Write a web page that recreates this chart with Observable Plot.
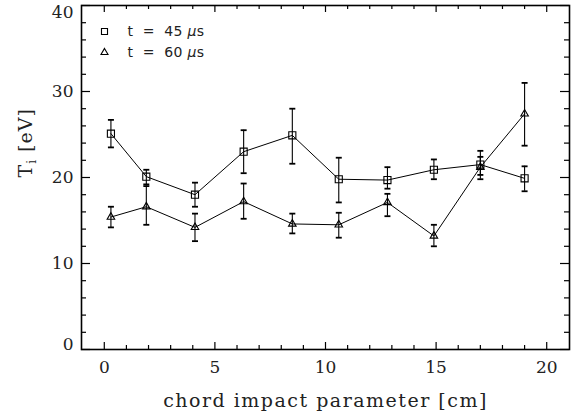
<!DOCTYPE html>
<html><head><meta charset="utf-8">
<script src="https://cdn.jsdelivr.net/npm/d3@7"></script>
<script src="https://cdn.jsdelivr.net/npm/@observablehq/plot@0.6"></script>
<style>body{margin:0;background:#fff} #chart svg{display:block}</style>
</head><body><div id="chart"></div>
<script>
// ---- data ----
const impact = [0.3, 1.9, 4.1, 6.3, 8.5, 10.6, 12.8, 14.9, 17.0, 19.0];
const ti45   = [25.1, 20.1, 18.0, 23.0, 24.9, 19.8, 19.7, 20.9, 21.5, 19.9];
const ti45Lo = [23.5, 19.2, 16.6, 20.5, 21.6, 17.1, 18.7, 19.8, 20.3, 18.4];
const ti45Hi = [26.7, 20.9, 19.4, 25.5, 28.0, 22.3, 21.2, 22.1, 23.1, 21.3];
const ti60   = [15.4, 16.6, 14.2, 17.2, 14.6, 14.5, 17.1, 13.2, 21.2, 27.4];
const ti60Lo = [14.2, 14.5, 12.6, 15.2, 13.5, 13.0, 15.5, 12.0, 19.8, 23.7];
const ti60Hi = [16.6, 19.0, 15.8, 19.3, 15.8, 15.9, 18.1, 14.5, 22.4, 31.0];
const seriesLabels = ["t = 45 μs", "t = 60 μs"];
const xLabel = "chord impact parameter [cm]";
const yLabel = "Ti [eV]";
const xMajor = [0, 5, 10, 15, 20];
const xMinor = [1, 2, 3, 4, 6, 7, 8, 9, 11, 12, 13, 14, 16, 17, 18, 19];
const yMajor = [0, 10, 20, 30, 40];
const yMinor = [2, 4, 6, 8, 12, 14, 16, 18, 22, 24, 26, 28, 32, 34, 36, 38];

const rows45 = impact.map((x, i) => ({x, y: ti45[i], lo: ti45Lo[i], hi: ti45Hi[i]}));
const rows60 = impact.map((x, i) => ({x, y: ti60[i], lo: ti60Lo[i], hi: ti60Hi[i]}));

const W = 578, H = 415, mL = 81, mR = 9, mT = 5, mB = 66;
const innerW = W - mL - mR, innerH = H - mT - mB;
const cap = {draw(ctx) { ctx.moveTo(-3, 0); ctx.lineTo(3, 0); }};
const serif = "DejaVu Serif";

function series(rows, symbol, r) {
  return [
    Plot.ruleX(rows, {x: "x", y1: "lo", y2: "hi", stroke: "black", strokeWidth: 1.1}),
    Plot.dot(rows, {x: "x", y: "lo", symbol: cap, stroke: "black", strokeWidth: 1.8}),
    Plot.dot(rows, {x: "x", y: "hi", symbol: cap, stroke: "black", strokeWidth: 1.8}),
    Plot.line(rows, {x: "x", y: "y", stroke: "black", strokeWidth: 1}),
    Plot.dot(rows, {x: "x", y: "y", symbol, r, stroke: "black", strokeWidth: 1.1, fill: "none"})
  ];
}

const chart = Plot.plot({
  width: W, height: H,
  marginLeft: mL, marginRight: mR, marginTop: mT, marginBottom: mB,
  style: {fontFamily: serif, background: "#fff", color: "#222"},
  x: {domain: [-1.03, 21.03]},
  y: {domain: [0, 40]},
  marks: [
    // tick labels
    Plot.axisX({ticks: xMajor, tickSize: 0, tickPadding: 11, fontSize: 17, label: null}),
    Plot.axisY({ticks: [10, 20, 30], tickSize: 0, tickPadding: 8, fontSize: 17, label: null}),
    Plot.axisY({ticks: [0], tickSize: 0, tickPadding: 8, fontSize: 17, label: null, dy: -5}),
    Plot.axisY({ticks: [40], tickSize: 0, tickPadding: 8, fontSize: 17, label: null, dy: 7}),
    // inward ticks on all sides
    Plot.tickX(xMinor, {x: d => d, insetTop: innerH - 4, stroke: "black", strokeWidth: 1.2}),
    Plot.tickX(xMajor, {x: d => d, insetTop: innerH - 7, stroke: "black", strokeWidth: 1.2}),
    Plot.tickX(xMinor, {x: d => d, insetBottom: innerH - 4, stroke: "black", strokeWidth: 1.2}),
    Plot.tickX(xMajor, {x: d => d, insetBottom: innerH - 7, stroke: "black", strokeWidth: 1.2}),
    Plot.tickY(yMinor, {y: d => d, insetRight: innerW - 5, stroke: "black", strokeWidth: 1.2}),
    Plot.tickY(yMajor, {y: d => d, insetRight: innerW - 9, stroke: "black", strokeWidth: 1.2}),
    Plot.tickY(yMinor, {y: d => d, insetLeft: innerW - 5, stroke: "black", strokeWidth: 1.2}),
    Plot.tickY(yMajor, {y: d => d, insetLeft: innerW - 9, stroke: "black", strokeWidth: 1.2}),
    Plot.frame({stroke: "black", strokeWidth: 1.6}),
    // data
    ...series(rows45, "square", 4),
    ...series(rows60, "triangle", 2.8),
    // legend
    Plot.dot([seriesLabels[0]], {frameAnchor: "top-left", dx: 23, dy: 26, symbol: "square", r: 3.4, stroke: "black", strokeWidth: 1.1, fill: "none"}),
    Plot.dot([seriesLabels[1]], {frameAnchor: "top-left", dx: 23, dy: 47, symbol: "triangle", r: 2.6, stroke: "black", strokeWidth: 1.1, fill: "none"}),
    Plot.text([seriesLabels[0]], {text: d => d, frameAnchor: "top-left", dx: 46, dy: 26, textAnchor: "start", lineAnchor: "middle", fontSize: 14, fontFamily: "DejaVu Sans"}),
    Plot.text([seriesLabels[1]], {text: d => d, frameAnchor: "top-left", dx: 46, dy: 47, textAnchor: "start", lineAnchor: "middle", fontSize: 14, fontFamily: "DejaVu Sans"}),
    // axis titles
    Plot.text([xLabel], {text: d => d, frameAnchor: "bottom", dy: 51, lineAnchor: "middle", fontSize: 19}),
    Plot.text([yLabel], {text: d => d, frameAnchor: "left", dx: -56, rotate: -90, lineAnchor: "middle", fontSize: 19})
  ]
});
document.getElementById("chart").append(chart);

// typographic touches: wide letter spacing, italic mu, subscript i
const svg = d3.select(chart);
svg.selectAll("text").each(function () {
  const t = d3.select(this);
  const s = this.textContent;
  if (s === xLabel) t.style("letter-spacing", "1.5px");
  if (seriesLabels.includes(s)) {
    const parts = s.split("μ");
    t.text(null).style("letter-spacing", "0.3px").style("white-space", "pre");
    t.append("tspan").text(parts[0].replace(/ = /, "  =  "));
    t.append("tspan").attr("font-style", "italic").text("μ");
    t.append("tspan").text(parts[1]);
  }
  if (s === yLabel) {
    t.text(null);
    t.append("tspan").text("T");
    t.append("tspan").attr("baseline-shift", "-30%").attr("font-size", 12).text("i");
    t.append("tspan").text(" [eV]");
    t.style("letter-spacing", "1px");
  }
});
</script>
</body></html>
